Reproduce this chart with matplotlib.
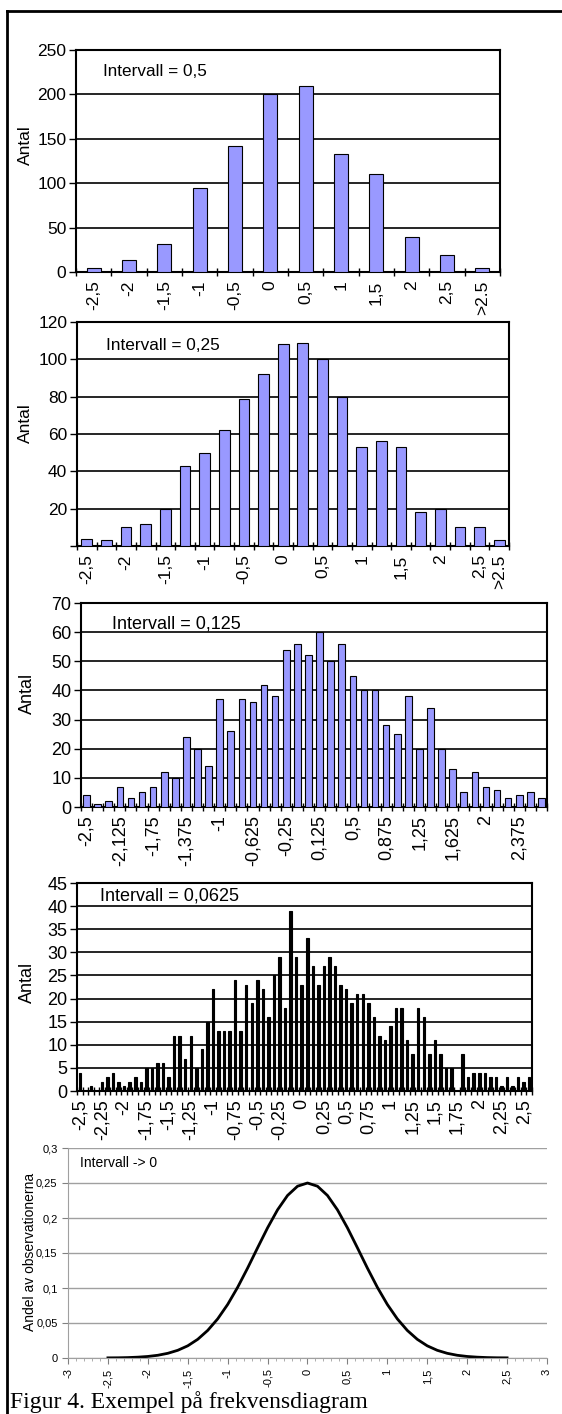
import numpy as np
import matplotlib.pyplot as plt
from matplotlib.lines import Line2D

plt.rcParams['font.family'] = ['Liberation Sans', 'DejaVu Sans']

W, H = 562, 1414
BLUE = '#9999ff'

# interval 0.5
lab1 = ["-2,5", "-2", "-1,5", "-1", "-0,5", "0", "0,5", "1", "1,5", "2", "2,5", ">2.5"]
val1 = [5, 13, 32, 95, 142, 200, 210, 133, 110, 39, 19, 5]

# interval 0.25
lab2 = ["-2,5", "-2", "-1,5", "-1", "-0,5", "0", "0,5", "1", "1,5", "2", "2,5", ">2.5"]
pos2 = [0, 2, 4, 6, 8, 10, 12, 14, 16, 18, 20, 21]
val2 = [4, 3, 10, 12, 20, 43, 50, 62, 79, 92, 108, 109,
        100, 80, 53, 56, 53, 18, 20, 10, 10, 3]

# interval 0.125
lab3 = ["-2,5", "-2,125", "-1,75", "-1,375", "-1", "-0,625", "-0,25",
        "0,125", "0,5", "0,875", "1,25", "1,625", "2", "2,375"]
val3 = [4, 1, 2, 7, 3, 5, 7, 12, 10, 24, 20, 14, 37, 26, 37, 36, 42, 38,
        54, 56, 52, 60, 50, 56, 45, 40, 40, 28, 25, 38, 20, 34, 20, 13,
        5, 12, 7, 6, 3, 4, 5, 3]

# interval 0.0625
lab4 = ["-2,5", "-2,25", "-2", "-1,75", "-1,5", "-1,25", "-1", "-0,75",
        "-0,5", "-0,25", "0", "0,25", "0,5", "0,75", "1", "1,25", "1,5",
        "1,75", "2", "2,25", "2,5"]
val4 = [4, 0, 1, 0, 2, 3, 4, 2, 1, 2, 3, 2, 5, 5, 6, 6, 3, 12, 12, 7,
        12, 5, 9, 15, 22, 13, 13, 13, 24, 13, 23, 19, 24, 22, 16, 25, 29, 18,
        39, 29, 23, 33, 27, 23, 27, 29, 27, 23, 22, 19, 21, 21, 19, 16, 12,
        11, 14, 18, 18, 11, 8, 18, 16, 8, 11, 8, 5, 5, 0, 8, 3, 4, 4, 4,
        3, 3, 1, 3, 1, 3, 2, 3]

# interval -> 0
x5 = [-2.5, -2.375, -2.25, -2.125, -2.0, -1.875, -1.75, -1.625, -1.5, -1.375,
      -1.25, -1.125, -1.0, -0.875, -0.75, -0.625, -0.5, -0.375, -0.25, -0.125,
      0.0, 0.125, 0.25, 0.375, 0.5, 0.625, 0.75, 0.875, 1.0, 1.125,
      1.25, 1.375, 1.5, 1.625, 1.75, 1.875, 2.0, 2.125, 2.25, 2.375, 2.5]
y5 = [0.0002, 0.0003, 0.0006, 0.0012, 0.0022, 0.0039, 0.0067, 0.011, 0.0174, 0.0267,
      0.0394, 0.0559, 0.0765, 0.101, 0.1285, 0.1575, 0.186, 0.2117, 0.2322, 0.2454,
      0.25, 0.2454, 0.2322, 0.2117, 0.186, 0.1575, 0.1285, 0.101, 0.0765, 0.0559,
      0.0394, 0.0267, 0.0174, 0.011, 0.0067, 0.0039, 0.0022, 0.0012, 0.0006, 0.0003, 0.0002]

fig = plt.figure(figsize=(W / 100, H / 100), dpi=100)


def ax_at(l, t, r, b):
    return fig.add_axes([l / W, 1 - b / H, (r - l) / W, (b - t) / H])


def bar_panel(box, vals, pos, labels, ymax, ystep, width, fs, zero=True, face=BLUE):
    ax = ax_at(*box)
    x = np.arange(len(vals))
    ax.bar(x, vals, width=width, color=face, edgecolor='black', linewidth=0.8, zorder=3)
    ax.set_xlim(-0.5, len(vals) - 0.5)
    ax.set_ylim(0, ymax)
    yt = list(range(0, ymax + 1, ystep))
    ax.set_yticks(yt)
    ax.set_yticklabels([str(v) if (v or zero) else '' for v in yt], fontsize=fs)
    ax.grid(axis='y', color='black', lw=1.2, zorder=1)
    ax.set_xticks(pos)
    ax.set_xticklabels(labels, rotation=90, fontsize=fs, va='top')
    ax.set_xticks(np.arange(-0.5, len(vals)), minor=True)
    ax.tick_params(axis='x', which='major', length=0, pad=6)
    ax.tick_params(axis='x', which='minor', direction='inout', length=6, width=1)
    ax.tick_params(axis='y', direction='out', length=5, width=1, pad=2)
    for s in ax.spines.values():
        s.set_linewidth(1.5)
    return ax


bar_panel((76, 50, 500, 272), val1, range(len(val1)), lab1, 250, 50, 0.4, 12.5)
bar_panel((77, 322, 509, 546), val2, pos2, lab2, 120, 20, 0.55, 12.5, zero=False)
bar_panel((81, 603, 547, 807), val3, range(0, 40, 3), lab3, 70, 10, 0.6, 13)
bar_panel((77, 883, 532, 1091), val4, range(0, 81, 4), lab4, 45, 5, 0.45, 13, face='black')

# smooth curve panel
ax5 = ax_at(68, 1148, 547, 1358)
ax5.plot(x5, y5, color='black', lw=2)
ax5.set_xlim(-3, 3)
ax5.set_ylim(0, 0.3)
xt = np.arange(-3, 3.01, 0.5)
ax5.set_xticks(xt)
ax5.set_xticklabels([('%g' % v).replace('.', ',') for v in xt], rotation=90, fontsize=8)
ax5.set_xticks(np.arange(-3, 3.01, 0.1), minor=True)
yt = np.arange(0, 0.301, 0.05)
ax5.set_yticks(yt)
ax5.set_yticklabels([('%g' % round(v, 2)).replace('.', ',') for v in yt], fontsize=8)
ax5.grid(axis='y', color='#a0a0a0', lw=1)
ax5.tick_params(colors='#808080', labelcolor='black', length=4)
ax5.tick_params(axis='x', which='minor', length=2, color='#a0a0a0')
for k in ('top', 'right'):
    ax5.spines[k].set_visible(False)
for k in ('left', 'bottom'):
    ax5.spines[k].set_color('#a0a0a0')

# panel texts
for (x, y, t, f) in [(103, 71, "Intervall = 0,5", 12.3), (106, 345, "Intervall = 0,25", 12.4),
                     (112, 624, "Intervall = 0,125", 13), (100, 896, "Intervall = 0,0625", 13),
                     (80, 1163, "Intervall -> 0", 10)]:
    fig.text(x / W, 1 - y / H, t, fontsize=f, va='center', ha='left')

for (x, y, f) in [(25, 145, 12.5), (25, 423, 12.5), (27, 693, 13), (27, 982, 13)]:
    fig.text(x / W, 1 - y / H, "Antal", fontsize=f, rotation=90, va='center', ha='center')
fig.text(30 / W, 1 - 1252 / H, "Andel av observationerna", fontsize=10,
         rotation=90, va='center', ha='center')

fig.text(10 / W, 1 - 1402 / H, "Figur 4. Exempel på frekvensdiagram",
         family='Liberation Serif', fontsize=17, va='center', ha='left')

# outer frame
fig.add_artist(Line2D([7 / W, 7 / W], [0, 1 - 11 / H], color='black', lw=2))
fig.add_artist(Line2D([7 / W, 1], [1 - 11 / H, 1 - 11 / H], color='black', lw=2))

fig.savefig('out.png', dpi=100)
